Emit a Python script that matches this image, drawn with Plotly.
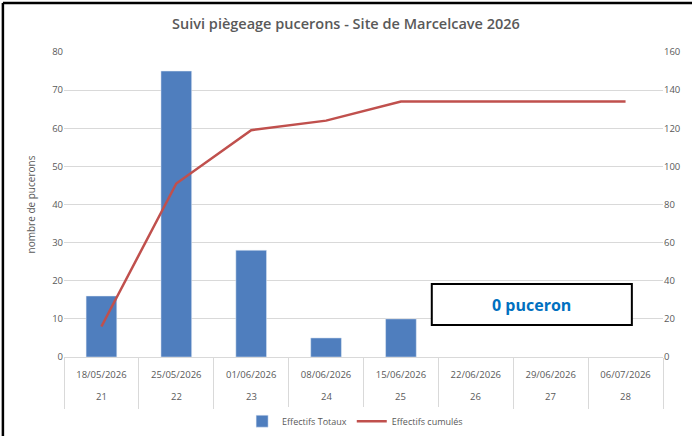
import plotly.graph_objects as go

dates = ["18/05/2026", "25/05/2026", "01/06/2026", "08/06/2026",
         "15/06/2026", "22/06/2026", "29/06/2026", "06/07/2026"]
weeks = ["21", "22", "23", "24", "25", "26", "27", "28"]
totaux = [16, 75, 28, 5, 10, None, None, None]
cumules = [16, 91, 119, 124, 134, 134, 134, 134]

FONT = "Open Sans"
GRAY = "#595959"
GRID = "#D9D9D9"

fig = go.Figure()
fig.add_trace(go.Bar(x=dates, y=totaux, name="Effectifs Totaux",
                     marker=dict(color="#4F7EBE"), width=0.41))
fig.add_trace(go.Scatter(x=dates, y=cumules, name="Effectifs cumulés", yaxis="y2",
                         mode="lines", line=dict(color="#C0504D", width=2.5)))
# invisible trace to carry the category separator axis
fig.add_trace(go.Scatter(x=dates, y=[0]*len(dates), xaxis="x2", mode="markers",
                         marker=dict(opacity=0), showlegend=False, hoverinfo="skip"))

for d, w in zip(dates, weeks):
    fig.add_annotation(x=d, y=-0.128, xref="x", yref="paper", text=w, showarrow=False,
                       font=dict(family=FONT, size=9.5, color=GRAY), yanchor="middle",
                       xanchor="center")

fig.add_shape(type="rect", xref="paper", yref="paper", x0=0.614, x1=0.948, y0=0.105, y1=0.239,
              line=dict(color="black", width=2), fillcolor="white", layer="above")
fig.add_annotation(x=0.781, y=0.172, xref="paper", yref="paper", text="<b>0 puceron</b>",
                   showarrow=False, xanchor="center", yanchor="middle",
                   font=dict(family=FONT, size=16, color="#0070C0"))

# outer frame (left and top)
fig.add_shape(type="line", xref="paper", yref="paper", x0=-0.102, x1=-0.102, y0=-0.3, y1=1.161,
              line=dict(color="black", width=2.5))
fig.add_shape(type="line", xref="paper", yref="paper", x0=-0.102, x1=1.1, y0=1.161, y1=1.161,
              line=dict(color="black", width=2.5))

fig.update_layout(
    width=692, height=436,
    margin=dict(l=64, r=29, t=52, b=79),
    paper_bgcolor="white", plot_bgcolor="white",
    title=dict(text="Suivi piègeage pucerons - Site de Marcelcave 2026", x=0.5, xanchor="center",
               y=0.945, yanchor="middle",
               font=dict(family=FONT, size=14.5, color=GRAY, weight=600)),
    font=dict(family=FONT, color=GRAY, size=9.5),
    bargap=0.59,
    xaxis=dict(type="category", categoryarray=dates, range=[-0.5, 7.5], showgrid=False,
               showline=True, linecolor=GRID, ticks="", automargin=False,
               ticklabelstandoff=9, tickfont=dict(size=9.5, color=GRAY)),
    xaxis2=dict(type="category", categoryarray=dates, range=[-0.5, 7.5], overlaying="x",
                anchor="y", side="bottom", showgrid=False, showline=False, ticks="outside",
                tickson="boundaries", ticklen=51, tickcolor=GRID, tickwidth=1,
                showticklabels=False, automargin=False),
    yaxis=dict(range=[0, 80], dtick=10, showgrid=True, gridcolor=GRID, zeroline=False,
               showline=False, ticks="", automargin=False,
               title=dict(text="nombre de pucerons", standoff=14,
               font=dict(size=10, color=GRAY)), tickfont=dict(size=9.5, color=GRAY)),
    yaxis2=dict(range=[0, 160], dtick=20, overlaying="y", side="right", showgrid=False,
                zeroline=False, ticks="", automargin=False,
                tickfont=dict(size=9.5, color=GRAY)),
    legend=dict(orientation="h", x=0.486, xanchor="center", yref="container", y=0.034,
                yanchor="middle", font=dict(size=9, color=GRAY), itemwidth=30),
)

fig.write_html("out.html", config={"displayModeBar": False},
               post_script="document.body.style.margin='0px';")
